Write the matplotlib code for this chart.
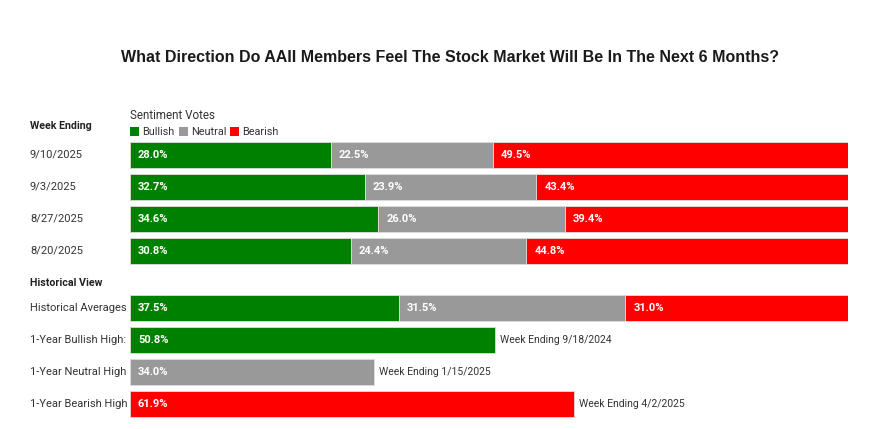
import matplotlib
matplotlib.use("Agg")
import matplotlib.pyplot as plt
from matplotlib import font_manager
from matplotlib.patches import Patch
from matplotlib.transforms import blended_transform_factory

# weekly sentiment survey
week_dates = ["9/10/2025", "9/3/2025", "8/27/2025", "8/20/2025"]
week_bullish = [28.0, 32.7, 34.6, 30.8]
week_neutral = [22.5, 23.9, 26.0, 24.4]
week_bearish = [49.5, 43.4, 39.4, 44.8]

# historical view
hist_label = "Historical Averages"
hist_avg = [37.5, 31.5, 31.0]  # bullish, neutral, bearish
high_labels = ["1-Year Bullish High:", "1-Year Neutral High", "1-Year Bearish High"]
high_values = [50.8, 34.0, 61.9]
high_weeks = ["Week Ending 9/18/2024", "Week Ending 1/15/2025", "Week Ending 4/2/2025"]

series_names = ["Bullish", "Neutral", "Bearish"]
colors = ["#008000", "#999999", "#ff0000"]

installed = {f.name for f in font_manager.fontManager.ttflist}
narrow = "Liberation Sans Narrow" if "Liberation Sans Narrow" in installed else "Roboto"
plt.rcParams["font.family"] = [narrow, "DejaVu Sans"]

fig = plt.figure(figsize=(8.75, 4.29), dpi=100)
W, H = 875, 429
ax = fig.add_axes([130 / W, 2 / H, 718 / W, 320 / H])
ax.set_xlim(0, 100)
ax.set_ylim(8.5, -1.5)
ax.axis("off")

gap = 57 / 32 - 1
week_pos = list(range(len(week_dates)))
hist_pos = [len(week_dates) + gap + i for i in range(1 + len(high_values))]
bar_h = 0.81

lab = blended_transform_factory(fig.transFigure, ax.transData)
label_x = 30 / W
label_kw = dict(transform=lab, va="center", ha="left", fontsize=8, color="#333333")
value_kw = dict(va="center", ha="left", fontsize=8, color="white", fontweight="bold")


def stacked_row(y, values):
    left = 0
    for v, c in zip(values, colors):
        ax.barh(y, v, left=left, height=bar_h, color=c, edgecolor="#dddddd", linewidth=0.6)
        ax.text(left + 1.1, y, f"{v:.1f}%", **value_kw)
        left += v


for y, d, b, n, r in zip(week_pos, week_dates, week_bullish, week_neutral, week_bearish):
    stacked_row(y, [b, n, r])
    ax.text(label_x, y, d, **label_kw)

stacked_row(hist_pos[0], hist_avg)
ax.text(label_x, hist_pos[0], hist_label, **label_kw)

for y, name, v, c, wk in zip(hist_pos[1:], high_labels, high_values, colors, high_weeks):
    ax.barh(y, v, height=bar_h, color=c, edgecolor="#dddddd", linewidth=0.6)
    ax.text(1.1, y, f"{v:.1f}%", **value_kw)
    ax.text(v + 0.7, y, wk, va="center", ha="left", fontsize=7.5, color="#333333")
    ax.text(label_x, y, name, **label_kw)

ax.text(label_x, -0.9, "Week Ending", transform=lab, va="center", ha="left",
        fontsize=7.7, fontweight="bold", color="#222222")
ax.text(label_x, hist_pos[0] - 0.78, "Historical View", transform=lab, va="center",
        ha="left", fontsize=7.7, fontweight="bold", color="#222222")

handles = [Patch(facecolor=c, edgecolor="none", label=s) for s, c in zip(series_names, colors)]
leg = ax.legend(handles=handles, ncol=3, loc="lower left", bbox_to_anchor=(0, 0.905),
                frameon=False, handlelength=0.85, handleheight=0.85, handletextpad=0.3,
                columnspacing=0.35, borderpad=0, borderaxespad=0, fontsize=7.8,
                title="Sentiment Votes", title_fontsize=8.4, alignment="left")
for t in leg.get_texts():
    t.set_color("#333333")
leg.get_title().set_color("#333333")

fig.text(450 / W, 1 - 57 / H, "What Direction Do AAII Members Feel The Stock Market Will Be In The Next 6 Months?",
         ha="center", va="center", fontsize=11.5, fontweight="bold", color="#1a1a1a",
         family=["Liberation Sans", "DejaVu Sans"])

fig.savefig("out.png", dpi=100, facecolor="white")
